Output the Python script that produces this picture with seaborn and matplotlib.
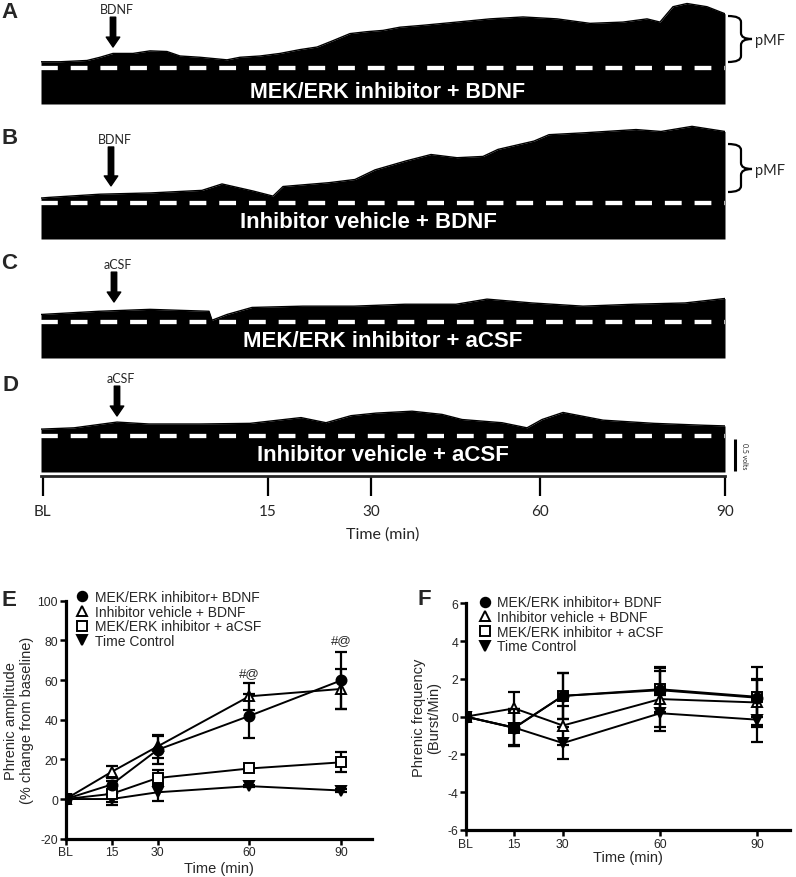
import numpy as np
import pandas as pd
import matplotlib
matplotlib.use("Agg")
import matplotlib.pyplot as plt
import seaborn as sns
from matplotlib.path import Path
from matplotlib.patches import PathPatch
from matplotlib.lines import Line2D
from matplotlib import font_manager as fm

# ---------------------------------------------------------------- data
# compressed phrenic neurogram envelopes (volts, from block floor), x = trace position
TRACE_A_X = [0, 19, 46, 59, 72, 92, 109, 126, 139, 159, 186, 199, 219, 239, 259, 276, 292, 309, 326,
             342, 359, 382, 416, 449, 482, 516, 549, 582, 606, 619, 626, 632, 646, 666, 684]
TRACE_A_V = [0.66, 0.66, 0.68, 0.73, 0.79, 0.79, 0.83, 0.82, 0.75, 0.73, 0.69, 0.73, 0.75, 0.79, 0.85,
             0.89, 0.99, 1.10, 1.13, 1.15, 1.20, 1.23, 1.28, 1.33, 1.36, 1.33, 1.26, 1.28, 1.33, 1.28,
             1.41, 1.52, 1.57, 1.52, 1.41]
TRACE_B_X = [0, 8, 59, 110, 161, 181, 212, 232, 242, 288, 314, 334, 365, 390, 416, 442, 457, 493,
             508, 544, 595, 620, 651, 684]
TRACE_B_V = [0.64, 0.65, 0.70, 0.72, 0.76, 0.86, 0.75, 0.67, 0.82, 0.88, 0.93, 1.08, 1.22, 1.32, 1.27,
             1.29, 1.40, 1.53, 1.63, 1.66, 1.71, 1.68, 1.76, 1.68]
TRACE_C_X = [0, 58, 109, 168, 171, 186, 211, 262, 313, 364, 415, 446, 491, 542, 593, 644, 684]
TRACE_C_V = [0.68, 0.73, 0.76, 0.73, 0.59, 0.68, 0.79, 0.81, 0.81, 0.84, 0.84, 0.92, 0.86, 0.81, 0.84,
             0.86, 0.93]
TRACE_D_X = [0, 33, 76, 108, 159, 209, 260, 285, 310, 335, 371, 401, 421, 461, 486, 501, 522, 562,
             613, 663, 684]
TRACE_D_V = [0.67, 0.69, 0.78, 0.75, 0.75, 0.76, 0.85, 0.77, 0.88, 0.92, 0.95, 0.90, 0.82, 0.77, 0.69,
             0.82, 0.93, 0.81, 0.76, 0.73, 0.72]
BASELINE_V = 0.57
TRACE_TITLES = ["MEK/ERK inhibitor + BDNF", "Inhibitor vehicle + BDNF",
                "MEK/ERK inhibitor + aCSF", "Inhibitor vehicle + aCSF"]
TRACE_LETTERS = ["A", "B", "C", "D"]
TREATMENTS = ["BDNF", "BDNF", "aCSF", "aCSF"]
INJECTION_POS = [72, 70, 73, 76]
ARROW_TIP_V = [0.89, 0.83, 0.875, 0.875]
TRACE_TICK_POS = [1.5, 227, 330, 499, 684]
TRACE_TICK_LABELS = ["BL", "15", "30", "60", "90"]

TIME = [0, 15, 30, 60, 90]
TIME_LABELS = ["BL", "15", "30", "60", "90"]
SERIES = ["MEK/ERK inhibitor+ BDNF", "Inhibitor vehicle + BDNF",
          "MEK/ERK inhibitor + aCSF", "Time Control"]
AMP_MEAN = [[0, 7.3, 24.8, 41.9, 59.8],
            [0, 13.7, 26.5, 51.8, 55.5],
            [0, 2.6, 10.6, 15.4, 18.5],
            [0, 0.0, 3.4, 6.5, 4.3]]
AMP_SEM = [[0, 2.0, 7.0, 11.0, 14.5],
           [0, 3.0, 6.0, 6.8, 10.0],
           [0, 4.0, 4.0, 1.0, 5.0],
           [0, 3.0, 4.2, 0.6, 0.6]]
AMP_ANNOT = [(60, 63.5, "#@"), (90, 80.2, "#@")]
FREQ_MEAN = [[0, -0.58, 1.10, 1.40, 1.00],
             [0, 0.44, -0.47, 0.93, 0.75],
             [0, -0.60, 1.10, 1.45, 1.05],
             [0, -0.58, -1.40, 0.18, -0.16]]
FREQ_SEM = [[0, 1.0, 1.2, 1.2, 1.0],
            [0, 0.84, 1.05, 1.5, 1.2],
            [0, 0.9, 1.2, 1.2, 1.6],
            [0, 1.0, 0.85, 0.95, 1.2]]

# ---------------------------------------------------------------- style
sns.set_theme(style="ticks")


def has_font(name):
    try:
        fm.findfont(fm.FontProperties(family=name), fallback_to_default=False)
        return True
    except Exception:
        return False


ARIAL = "Liberation Sans" if has_font("Liberation Sans") else "DejaVu Sans"
CAL = "Lato" if has_font("Lato") else ARIAL
plt.rcParams["font.family"] = [ARIAL, "DejaVu Sans"]
plt.rcParams["axes.unicode_minus"] = False

W, H = 796, 878
fig = plt.figure(figsize=(W / 100, H / 100), dpi=100)
fig.patch.set_facecolor("white")


def px_axes(left, top, width, height):
    return fig.add_axes([left / W, 1 - (top + height) / H, width / W, height / H])


def fpx(x, y):
    return (x / W, 1 - y / H)


V_PER_PX = 1 / 64.0
TRACE_LEFT, TRACE_W = 41, 684
trace_boxes = [(0, 105), (110, 130), (280, 79), (395, 78)]  # top px, height px
traces = [(TRACE_A_X, TRACE_A_V), (TRACE_B_X, TRACE_B_V), (TRACE_C_X, TRACE_C_V), (TRACE_D_X, TRACE_D_V)]
title_pos = [(0.507, 0.19, 15.5), (0.478, 0.28, 16), (0.5, 0.28, 16), (0.5, 0.28, 16)]
trace_axes = []
for i, ((tx, tv), (top, hgt)) in enumerate(zip(traces, trace_boxes)):
    ax = px_axes(TRACE_LEFT, top, TRACE_W, hgt)
    ax.set_facecolor("none")
    ax.fill_between(tx, 0, tv, color="black", lw=0)
    sns.lineplot(x=tx, y=tv, ax=ax, color="black", lw=1.0, errorbar=None)
    ax.axhline(BASELINE_V, color="white", lw=3.1, dashes=(3.9, 3.0))
    ax.set_xlim(0, TRACE_W)
    ax.set_ylim(0, hgt * V_PER_PX)
    ax.axis("off")
    xf, yv, fs = title_pos[i]
    ax.text(xf, yv, TRACE_TITLES[i], transform=ax.get_yaxis_transform(),
            ha="center", va="center", color="white", fontsize=fs, fontweight="bold",
            family=[ARIAL, "DejaVu Sans"])
    arrow_len = 28 if i == 1 else 21.5
    ax.annotate("", xy=(INJECTION_POS[i], ARROW_TIP_V[i]), xytext=(0, arrow_len),
                textcoords="offset points", annotation_clip=False,
                arrowprops=dict(arrowstyle="simple,head_length=0.55,head_width=0.75,tail_width=0.3",
                                mutation_scale=13, color="black", shrinkA=0, shrinkB=0))
    ax.annotate(TREATMENTS[i], xy=(INJECTION_POS[i], ARROW_TIP_V[i]), xytext=(3, arrow_len + 1.5),
                textcoords="offset points", ha="center", va="bottom", fontsize=9,
                family=[CAL, "DejaVu Sans"], annotation_clip=False)
    trace_axes.append(ax)

# panel letters
for letter, (x, y) in zip(TRACE_LETTERS + ["E", "F"],
                          [(10, 12), (10, 139), (9, 264), (10, 386), (9, 601), (424, 600)]):
    fig.text(*fpx(x, y), letter, ha="center", va="center", fontsize=16, fontweight="bold",
             family=[ARIAL, "DejaVu Sans"])


# pMF braces
def brace(x0, xv, xt, ytop, ybot, ymid):
    r = 6
    verts = [fpx(x0, ytop), fpx(xv, ytop), fpx(xv, ytop + r),
             fpx(xv, ymid - r), fpx(xv, ymid), fpx(xt, ymid),
             fpx(xv, ymid), fpx(xv, ymid + r),
             fpx(xv, ybot - r), fpx(xv, ybot), fpx(x0, ybot)]
    codes = [Path.MOVETO, Path.CURVE3, Path.CURVE3,
             Path.LINETO, Path.CURVE3, Path.CURVE3,
             Path.CURVE3, Path.CURVE3,
             Path.LINETO, Path.CURVE3, Path.CURVE3]
    fig.add_artist(PathPatch(Path(verts, codes), transform=fig.transFigure, fill=False,
                             lw=1.6, color="black", capstyle="butt"))


for (ytop, ybot, ymid) in [(17, 63, 40), (145, 193, 170)]:
    brace(728, 741, 752, ytop, ybot, ymid)
    fig.text(*fpx(755, ymid + 1), "pMF", ha="left", va="center", fontsize=10.5,
             family=[CAL, "DejaVu Sans"])

# scale bar on D
axD = trace_axes[3]
axD.plot([694, 694], [0.02, 0.52], color="black", lw=2.2, clip_on=False, solid_capstyle="butt")
axD.text(704, 0.27, "0.5 volts", rotation=270, ha="center", va="center", fontsize=5,
         family=[CAL, "DejaVu Sans"], clip_on=False)

# time axis of the traces
axT = px_axes(TRACE_LEFT, 476, TRACE_W, 1)
axT.set_facecolor("none")
axT.set_xlim(0, TRACE_W)
axT.set_yticks([])
for s in ["left", "right", "top"]:
    axT.spines[s].set_visible(False)
axT.spines["bottom"].set_linewidth(2.0)
axT.set_xticks(TRACE_TICK_POS)
axT.set_xticklabels(TRACE_TICK_LABELS, family=[CAL, "DejaVu Sans"], fontsize=11)
axT.tick_params(axis="x", direction="out", length=14.5, width=1.6, pad=6, color="black")
axT.set_xlabel("Time (min)", fontsize=11.5, family=[CAL, "DejaVu Sans"], labelpad=6)

# ---------------------------------------------------------------- E and F
MARKERS = [dict(marker="o", mfc="black", ms=7.2),
           dict(marker="^", mfc="white", ms=7.8),
           dict(marker="s", mfc="white", ms=7.5),
           dict(marker="v", mfc="black", ms=7.2)]
ZORD = [6, 5, 4, 3]


def panel(ax, means, sems, ylim, yticks, order):
    for k in order:
        m, e, st = means[k], sems[k], MARKERS[k]
        ax.errorbar(TIME, m, yerr=e, fmt="none", ecolor="black", elinewidth=1.6,
                    capsize=4.5, capthick=1.6, zorder=ZORD[k] - 0.5)
        df = pd.DataFrame({"t": TIME, "v": m})
        sns.lineplot(data=df, x="t", y="v", ax=ax, color="black", lw=1.4, marker=st["marker"],
                     markersize=st["ms"], markerfacecolor=st["mfc"], markeredgecolor="black",
                     markeredgewidth=1.4, errorbar=None, zorder=ZORD[k])
    ax.set_xlim(0, 100)
    ax.set_ylim(*ylim)
    ax.set_yticks(yticks)
    ax.set_xticks(TIME)
    ax.set_xticklabels(TIME_LABELS)
    sns.despine(ax=ax)
    for s in ["left", "bottom"]:
        ax.spines[s].set_linewidth(2.3)
        ax.spines[s].set_color("black")
    ax.tick_params(axis="both", direction="out", length=4, width=1.8, labelsize=8.8,
                   pad=1.5, color="black")
    ax.set_facecolor("none")
    for lab in ax.get_xticklabels() + ax.get_yticklabels():
        lab.set_family([ARIAL, "DejaVu Sans"])
    handles = [Line2D([], [], ls="none", color="black", marker=MARKERS[k]["marker"],
                      ms=MARKERS[k]["ms"] * 0.95, mfc=MARKERS[k]["mfc"], mec="black", mew=1.4)
               for k in range(4)]
    return handles


axE = px_axes(65.7, 601.7, 306, 238)
hE = panel(axE, AMP_MEAN, AMP_SEM, (-20, 100), [-20, 0, 20, 40, 60, 80, 100], [3, 2, 1, 0])
for (x, y, t) in AMP_ANNOT:
    axE.text(x, y, t, ha="center", va="center", fontsize=9.5)
axE.set_xlabel("Time (min)", fontsize=10.5)
axE.set_ylabel("Phrenic amplitude\n(% change from baseline)", fontsize=10.5, linespacing=1.1)
axE.xaxis.set_label_coords(0.5, -0.095)
axE.yaxis.set_label_coords(-0.105, 0.5)
axE.legend(hE, SERIES, loc="upper left", bbox_to_anchor=(0.034, 1.045), frameon=False,
           fontsize=10, handlelength=0.9, handletextpad=0.45, labelspacing=0.05,
           borderpad=0, borderaxespad=0)

axF = px_axes(465.7, 604.3, 324, 226.7)
hF = panel(axF, FREQ_MEAN, FREQ_SEM, (-6, 6), [-6, -4, -2, 0, 2, 4, 6], [3, 1, 2, 0])
axF.set_xlabel("Time (min)", fontsize=10.5)
axF.set_ylabel("Phrenic frequency\n(Burst/Min)", fontsize=10.5, linespacing=1.1)
axF.xaxis.set_label_coords(0.5, -0.09)
axF.yaxis.set_label_coords(-0.075, 0.5)
axF.legend(hF, SERIES, loc="upper left", bbox_to_anchor=(0.04, 1.035), frameon=False,
           fontsize=10, handlelength=0.9, handletextpad=0.45, labelspacing=0.05,
           borderpad=0, borderaxespad=0)

fig.savefig("out.png", dpi=100, facecolor="white")
